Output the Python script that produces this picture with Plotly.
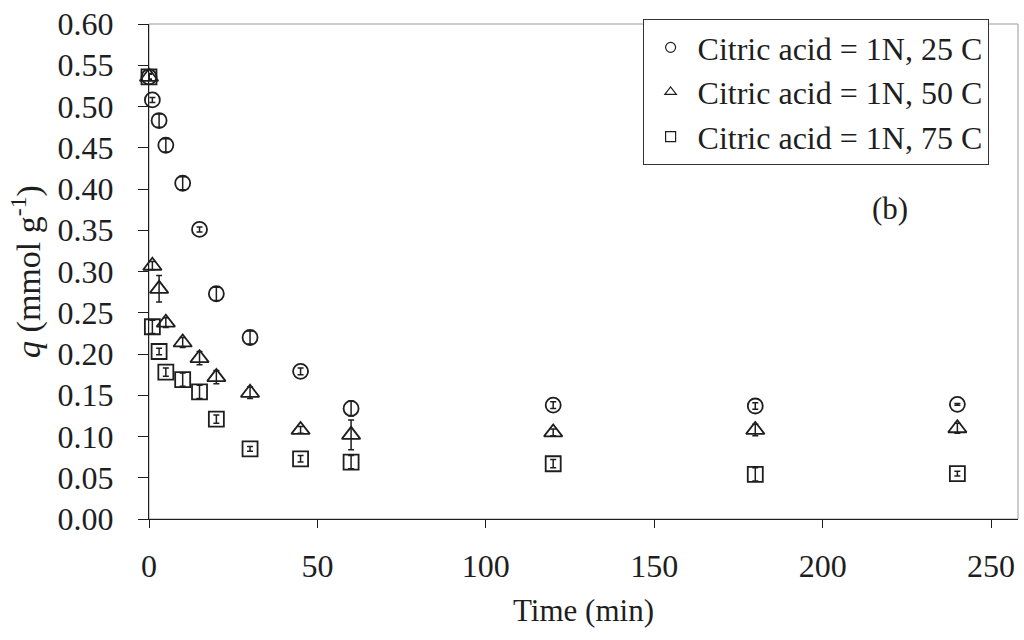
import plotly.graph_objects as go

# Sampling times (min)
time_min = [0, 1, 3, 5, 10, 15, 20, 30, 45, 60, 120, 180, 240]

# q (mmol g^-1) for 1N citric acid at three temperatures, with standard deviations
q_25c = [0.536, 0.508, 0.483, 0.453, 0.407, 0.351, 0.273, 0.220, 0.179, 0.134, 0.138, 0.137, 0.139]
err_25c = [0.003, 0.003, 0.008, 0.008, 0.008, 0.003, 0.008, 0.008, 0.004, 0.009, 0.004, 0.004, 0.001]

q_50c = [0.536, 0.307, 0.279, 0.238, 0.214, 0.195, 0.172, 0.153, 0.108, 0.102, 0.105, 0.108, 0.110]
err_50c = [0.003, 0.005, 0.016, 0.006, 0.006, 0.008, 0.008, 0.007, 0.004, 0.018, 0.004, 0.007, 0.006]

q_75c = [0.536, 0.233, 0.203, 0.178, 0.169, 0.154, 0.121, 0.085, 0.073, 0.069, 0.067, 0.054, 0.055]
err_75c = [0.004, 0.008, 0.004, 0.005, 0.008, 0.008, 0.005, 0.003, 0.004, 0.008, 0.005, 0.008, 0.003]

series_names = [
    "Citric acid = 1N, 25 C",
    "Citric acid = 1N, 50 C",
    "Citric acid = 1N, 75 C",
]
symbols = ["circle-open", "triangle-up-open", "square-open"]
marker_sizes = [15, 16, 15]

x_ticks = [0, 50, 100, 150, 200, 250]
y_ticks = [0.00, 0.05, 0.10, 0.15, 0.20, 0.25, 0.30, 0.35, 0.40, 0.45, 0.50, 0.55, 0.60]

INK = "#1e1e1e"
FONT = "Liberation Serif, Times New Roman, serif"

fig = go.Figure()

for name, ys, errs, sym, size in zip(
    series_names, [q_25c, q_50c, q_75c], [err_25c, err_50c, err_75c], symbols, marker_sizes
):
    fig.add_trace(
        go.Scatter(
            x=time_min,
            y=ys,
            mode="markers",
            name=name,
            showlegend=False,
            cliponaxis=False,
            marker=dict(symbol=sym, size=size, color=INK, line=dict(width=1.8, color=INK)),
            error_y=dict(type="data", array=errs, visible=True, color=INK, thickness=1.5, width=3),
        )
    )

# Legend keys use smaller glyphs than the plotted points
for i, (name, sym) in enumerate(zip(series_names, symbols)):
    fig.add_trace(
        go.Scatter(
            x=[None],
            y=[None],
            mode="markers",
            name=name,
            legendgroup=f"g{i}",
            marker=dict(symbol=sym, size=10, color=INK, line=dict(width=1.2, color=INK)),
        )
    )

# Faint frame along top and right edges of the plotting area
fig.add_shape(
    type="rect", xref="paper", yref="paper", x0=0, y0=0, x1=1, y1=1,
    line=dict(color="#9a9a9a", width=1), layer="below",
)

fig.add_annotation(
    x=0.876, y=0.628, xref="paper", yref="paper", text="(b)", showarrow=False,
    font=dict(family=FONT, size=31, color=INK),
)

fig.update_layout(
    width=1024,
    height=640,
    margin=dict(l=149, r=6, t=22, b=121),
    paper_bgcolor="white",
    plot_bgcolor="white",
    font=dict(family=FONT, size=31, color=INK),
    showlegend=True,
    legend=dict(
        x=0.568, y=1.01, xanchor="left", yanchor="top",
        bgcolor="white", bordercolor="#333333", borderwidth=1,
        font=dict(family=FONT, size=32, color=INK),
        tracegroupgap=0, itemwidth=44,
    ),
    xaxis=dict(
        range=[0, 258], tickvals=x_ticks, ticktext=[str(v) for v in x_ticks],
        showgrid=False, zeroline=False, showline=True, linecolor=INK, linewidth=1.4,
        ticks="outside", ticklen=8, tickwidth=1.2, tickcolor=INK,
        tickfont=dict(family=FONT, size=32, color=INK), ticklabelstandoff=10,
        title=dict(text="Time (min)", font=dict(family=FONT, size=31, color=INK), standoff=16),
    ),
    yaxis=dict(
        range=[0, 0.6], tickvals=y_ticks, ticktext=[f"{v:.2f}" for v in y_ticks],
        showgrid=False, zeroline=False, showline=True, linecolor=INK, linewidth=1.4,
        ticks="outside", ticklen=10, tickwidth=1.2, tickcolor=INK,
        tickfont=dict(family=FONT, size=32, color=INK), ticklabelstandoff=18,
        title=dict(text="<i>q</i> (mmol g<sup>-1</sup>)", font=dict(family=FONT, size=34, color=INK), standoff=6),
    ),
)

fig.write_html("out.html")
